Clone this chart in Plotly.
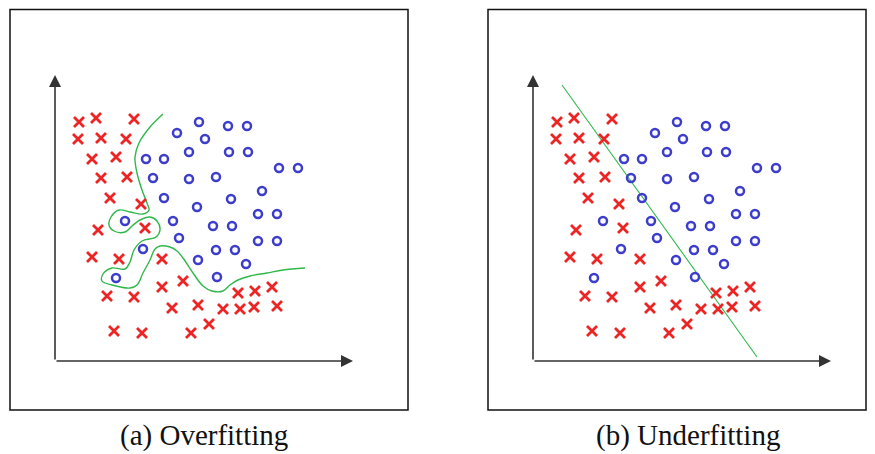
import plotly.graph_objects as go

# Class "x" samples (feature 1, feature 2)
cross_x = [2.4, 4.1, 7.9, 2.3, 4.6, 7.1, 3.7, 6.1, 4.6, 7.2, 5.5, 8.6, 4.3, 9.0, 3.7, 6.4, 10.7,
           5.2, 7.9, 10.7, 12.8, 11.7, 14.3, 16.8, 18.5, 19.9, 22.2, 18.3, 20.0, 21.7, 15.4, 13.6, 5.9, 8.7]
cross_y = [23.9, 24.3, 24.2, 22.2, 22.3, 22.2, 20.2, 20.4, 18.3, 18.4, 16.3, 15.7, 13.1, 13.3, 10.4, 10.2, 10.2,
           6.5, 6.4, 7.4, 8.0, 5.3, 5.6, 5.2, 5.2, 5.4, 5.5, 6.8, 7.0, 7.4, 3.7, 2.8, 3.0, 2.8]

# Class "o" samples
circle_x = [12.2, 14.4, 15.0, 17.3, 19.2, 9.1, 10.9, 13.4, 17.4, 19.3, 22.4, 24.3, 9.8, 13.4, 16.1, 20.7,
            10.9, 17.6, 14.2, 20.3, 22.2, 7.0, 11.8, 15.8, 17.7, 12.4, 8.8, 16.1, 18.0, 20.3, 22.2, 14.3,
            19.1, 6.1, 16.2]
circle_y = [22.8, 23.9, 22.2, 23.5, 23.5, 20.2, 20.2, 20.9, 20.9, 20.9, 19.3, 19.3, 18.3, 18.2, 18.4, 17.0,
            16.3, 16.2, 15.4, 14.7, 14.7, 14.0, 14.0, 13.5, 13.5, 12.3, 11.2, 11.1, 11.1, 12.0, 12.0, 10.1,
            9.7, 8.3, 8.4]

# Overfitted decision boundary (wiggly curve)
over_x = [10.8, 9.5, 8.4, 8.0, 8.2, 8.7, 9.2, 9.4, 8.8, 7.5, 6.4, 5.6, 5.4, 5.9, 7.0, 7.7, 8.5, 9.5,
          10.2, 10.5, 10.1, 8.7, 7.9, 7.5, 7.0, 5.7, 4.8, 4.7, 5.7, 7.5, 8.2, 8.8, 9.5, 10.0, 10.5, 11.5,
          12.2, 12.8, 13.8, 14.8, 15.7, 16.8, 17.5, 18.3, 19.5, 21.2, 22.8, 25.0]
over_y = [24.7, 23.4, 21.8, 20.4, 18.8, 17.1, 15.8, 15.1, 14.7, 14.9, 15.1, 14.4, 13.6, 13.0, 12.9, 13.5,
          14.1, 14.4, 14.0, 13.1, 12.4, 12.0, 11.1, 9.9, 9.2, 9.3, 8.7, 8.0, 7.6, 7.3, 7.6, 8.8, 10.1, 11.2,
          11.5, 11.4, 11.0, 10.3, 8.8, 7.5, 7.0, 7.0, 7.6, 8.1, 8.5, 8.8, 9.1, 9.3]

# Underfitted decision boundary (straight line)
under_x = [2.9, 22.4]
under_y = [27.6, 0.4]

RED = "#ee2424"
BLUE = "#3d3dcc"
GREEN = "#2fb84c"

W, H = 875, 454
x_range = [-1.5, 32.5]
y_range = [-1.9, 30.1]
x_end, y_end = 29.8, 28.6

fig = go.Figure()

panels = [("x", "y", [40 / W, 380 / W]), ("x2", "y2", [518 / W, 858 / W])]
boundaries = [(over_x, over_y, 1.4), (under_x, under_y, 1.1)]

for (xa, ya, dom), (bx, by, bw) in zip(panels, boundaries):
    fig.add_trace(go.Scatter(x=bx, y=by, mode="lines", line=dict(color=GREEN, width=bw, shape="spline"),
                             xaxis=xa, yaxis=ya, hoverinfo="skip"))
    fig.add_trace(go.Scatter(x=cross_x, y=cross_y, mode="markers", xaxis=xa, yaxis=ya,
                             marker=dict(symbol="x-thin-open", size=10, color=RED,
                                         line=dict(color=RED, width=2.8))))
    fig.add_trace(go.Scatter(x=circle_x, y=circle_y, mode="markers", xaxis=xa, yaxis=ya,
                             marker=dict(symbol="circle-open", size=8, color=BLUE,
                                         line=dict(color=BLUE, width=2.5))))
    # coordinate axes with arrowheads
    for tx, ty in [(x_end, 0), (0, y_end)]:
        fig.add_annotation(x=tx, y=ty, ax=0, ay=0, xref=xa, yref=ya, axref=xa, ayref=ya,
                           text="", showarrow=True, arrowhead=2, arrowsize=1.5, arrowwidth=1.6,
                           arrowcolor="#333333")

axis_style = dict(visible=False, showgrid=False, zeroline=False, fixedrange=True)
y_dom = [1 - 380 / H, 1 - 60 / H]
fig.update_layout(
    width=W, height=H, margin=dict(l=0, r=0, t=0, b=0),
    paper_bgcolor="white", plot_bgcolor="rgba(0,0,0,0)", showlegend=False,
    xaxis=dict(domain=panels[0][2], range=x_range, **axis_style),
    yaxis=dict(domain=y_dom, range=y_range, **axis_style),
    xaxis2=dict(domain=panels[1][2], range=x_range, **axis_style),
    yaxis2=dict(domain=y_dom, range=y_range, anchor="x2", **axis_style),
)

# panel frames
for x0, x1 in [(10, 408), (488, 866)]:
    fig.add_shape(type="rect", xref="paper", yref="paper",
                  x0=x0 / W, x1=x1 / W, y0=1 - 410 / H, y1=1 - 9.5 / H,
                  line=dict(color="#111111", width=1.5))

# captions
for cx, label in [(204, "(a) Overfitting"), (688, "(b) Underfitting")]:
    fig.add_annotation(x=cx / W, y=1 - 435 / H, xref="paper", yref="paper", text=label,
                       xanchor="center", yanchor="middle", showarrow=False,
                       font=dict(family="Liberation Serif", size=29, color="#111111"))

fig.write_html("out.html")
